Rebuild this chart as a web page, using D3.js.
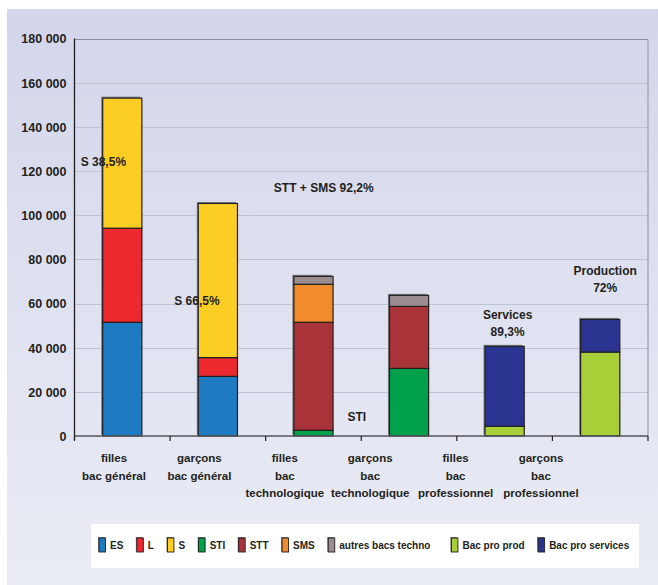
<!DOCTYPE html>
<html>
<head>
<meta charset="utf-8">
<script src="https://cdn.jsdelivr.net/npm/d3@7"></script>
<style>
  html, body { margin: 0; padding: 0; background: #ffffff; }
  svg { display: block; }
  text { font-family: "Liberation Sans", Arial, Helvetica, sans-serif; font-weight: bold; fill: #231f20; }
</style>
</head>
<body>
<svg id="chart" width="658" height="585"></svg>
<script>
// Bacheliers par série, filles / garçons
const categories = [
  ["filles", "bac général"],
  ["garçons", "bac général"],
  ["filles", "bac", "technologique"],
  ["garçons", "bac", "technologique"],
  ["filles", "bac", "professionnel"],
  ["garçons", "bac", "professionnel"]
];
const seriesNames = ["ES", "L", "S", "STI", "STT", "SMS", "autres bacs techno", "Bac pro prod", "Bac pro services"];
const seriesColors = ["#1f7bc1", "#ec2a2e", "#fccd23", "#00a14b", "#a8343a", "#f28b2c", "#9b8d90", "#a8cf38", "#2a3592"];

const valuesES       = [51500, 27000, 0, 0, 0, 0];
const valuesL        = [42600, 8500, 0, 0, 0, 0];
const valuesS        = [58900, 69800, 0, 0, 0, 0];
const valuesSTI      = [0, 0, 2600, 30600, 0, 0];
const valuesSTT      = [0, 0, 48900, 28100, 0, 0];
const valuesSMS      = [0, 0, 17200, 0, 0, 0];
const valuesAutres   = [0, 0, 3600, 5000, 0, 0];
const valuesProProd  = [0, 0, 0, 0, 4400, 38000];
const valuesProServ  = [0, 0, 0, 0, 36200, 14800];

const yTicks = [0, 20000, 40000, 60000, 80000, 100000, 120000, 140000, 160000, 180000];
const yTickLabels = ["0", "20 000", "40 000", "60 000", "80 000", "100 000", "120 000", "140 000", "160 000", "180 000"];

const annotations = [
  { lines: ["S 38,5%"], cat: 0, value: 124000, anchor: "start", dx: -22 },
  { lines: ["S 66,5%"], cat: 1, value: 61000, anchor: "start", dx: -24 },
  { lines: ["STT + SMS 92,2%"], cat: 2, value: 112500, anchor: "start", dx: -20 },
  { lines: ["STI"], cat: 3, value: 8500, anchor: "start", dx: -42 },
  { lines: ["Services", "89,3%"], cat: 4, value: 55000, anchor: "middle", dx: 3 },
  { lines: ["Production", "72%"], cat: 5, value: 74500, anchor: "middle", dx: 5 }
];

const allValues = [valuesES, valuesL, valuesS, valuesSTI, valuesSTT, valuesSMS, valuesAutres, valuesProProd, valuesProServ];
const rows = categories.map((c, i) => {
  const r = { idx: i };
  seriesNames.forEach((s, k) => { r[s] = allValues[k][i]; });
  return r;
});

const svg = d3.select("#chart");
const W = 658, H = 585;

// panel background
const defs = svg.append("defs");
const grad = defs.append("linearGradient").attr("id", "bg").attr("x1", 0).attr("y1", 0).attr("x2", 0).attr("y2", 1);
grad.append("stop").attr("offset", "0%").attr("stop-color", "#d3d6eb");
grad.append("stop").attr("offset", "100%").attr("stop-color", "#eaecf5");
svg.append("rect").attr("x", 7).attr("y", 9).attr("width", W - 7).attr("height", H - 9).attr("fill", "url(#bg)");

const plot = { left: 74.5, right: 648, top: 38.5, bottom: 436 };
const x = d3.scaleBand().domain(d3.range(categories.length)).range([plot.left, plot.right]).paddingInner(0.59).paddingOuter(0.295);
const xBand = d3.scaleBand().domain(d3.range(categories.length)).range([plot.left, plot.right]);
const y = d3.scaleLinear().domain([0, 180000]).range([plot.bottom, plot.top]);
const labelX = d3.scalePoint().domain(d3.range(categories.length)).range([114, 541]);

// value axis labels
const yAxis = d3.axisLeft(y).tickValues(yTicks).tickSize(0).tickFormat((d, i) => yTickLabels[i]);
const gy = svg.append("g").attr("transform", `translate(${plot.left},0)`).call(yAxis);
gy.select(".domain").remove();
gy.selectAll("text").attr("x", -8).attr("dy", "0.35em").style("font-size", "12.5px").style("font-family", "'Liberation Sans', Arial, sans-serif").style("font-weight", "bold").attr("fill", "#231f20");

// gridlines
svg.append("g").selectAll("line").data(yTicks.filter(t => t > 0 && t < 180000)).join("line")
  .attr("x1", plot.left).attr("x2", plot.right)
  .attr("y1", d => Math.round(y(d)) + 0.5).attr("y2", d => Math.round(y(d)) + 0.5)
  .attr("stroke", "#bfc2d0").attr("stroke-width", 1);

// frame: top and right in grey
svg.append("path")
  .attr("d", `M${plot.left},${Math.round(y(180000)) + 0.5}H${plot.right}V${plot.bottom}`)
  .attr("fill", "none").attr("stroke", "#8c8f9c").attr("stroke-width", 1);

// stacked bars
const stack = d3.stack().keys(seriesNames);
const stacked = stack(rows);
const barsG = svg.append("g");

// shadow behind each bar
rows.forEach((r, i) => {
  const total = d3.sum(seriesNames, s => r[s]);
  barsG.append("rect")
    .attr("x", x(i) - 1.5).attr("y", y(total) - 1.5)
    .attr("width", x.bandwidth()).attr("height", y(0) - y(total))
    .attr("fill", "#7d7f88");
});

stacked.forEach((layer, k) => {
  barsG.append("g").selectAll("rect")
    .data(layer.filter(d => d[1] - d[0] > 0))
    .join("rect")
    .attr("x", d => x(d.data.idx))
    .attr("y", d => y(d[1]))
    .attr("width", x.bandwidth())
    .attr("height", d => y(d[0]) - y(d[1]))
    .attr("fill", seriesColors[k])
    .attr("stroke", "#231f20")
    .attr("stroke-width", 1.2);
});

// left axis line
svg.append("line")
  .attr("x1", plot.left).attr("x2", plot.left)
  .attr("y1", y(180000)).attr("y2", plot.bottom + 4)
  .attr("stroke", "#231f20").attr("stroke-width", 1.3);

// bottom axis with category ticks
const xAxisG = svg.append("g");
xAxisG.append("line")
  .attr("x1", plot.left).attr("x2", plot.right)
  .attr("y1", plot.bottom).attr("y2", plot.bottom)
  .attr("stroke", "#55565c").attr("stroke-width", 1.5);
const tickPos = d3.range(categories.length).map(i => xBand(i)).concat([plot.right]);
xAxisG.selectAll("line.tk").data(tickPos).join("line").attr("class", "tk")
  .attr("x1", d => d).attr("x2", d => d)
  .attr("y1", plot.bottom).attr("y2", plot.bottom + 5)
  .attr("stroke", "#231f20").attr("stroke-width", 1.2);

// category labels
categories.forEach((lines, i) => {
  const t = svg.append("text")
    .attr("text-anchor", "middle")
    .style("font-size", "11.5px");
  lines.forEach((ln, j) => {
    t.append("tspan").attr("x", labelX(i)).attr("y", 462 + j * 17.5).text(ln);
  });
});

// annotations
annotations.forEach(a => {
  const t = svg.append("text")
    .attr("text-anchor", a.anchor)
    .style("font-size", "12px");
  const cx = x(a.cat) + (a.anchor === "middle" ? x.bandwidth() / 2 : 0) + a.dx;
  a.lines.forEach((ln, j) => {
    t.append("tspan").attr("x", cx).attr("y", y(a.value) + 4 + j * 17).text(ln);
  });
});

// legend
const legendG = svg.append("g");
legendG.append("rect").attr("x", 91).attr("y", 524).attr("width", 548).attr("height", 44).attr("fill", "#ffffff");
let lx = 99;
seriesNames.forEach((name, k) => {
  legendG.append("rect").attr("x", lx - 1).attr("y", 537).attr("width", 7).attr("height", 14.5).attr("fill", "#77777c");
  legendG.append("rect").attr("x", lx).attr("y", 538).attr("width", 6.5).attr("height", 14)
    .attr("fill", seriesColors[k]).attr("stroke", "#231f20").attr("stroke-width", 0.9);
  const t = legendG.append("text").attr("x", lx + 11).attr("y", 548.5).style("font-size", "10px").text(name);
  const w = t.node().getComputedTextLength();
  lx += 11 + w + (k === 6 ? 21 : 13.5);
});
</script>
</body>
</html>
